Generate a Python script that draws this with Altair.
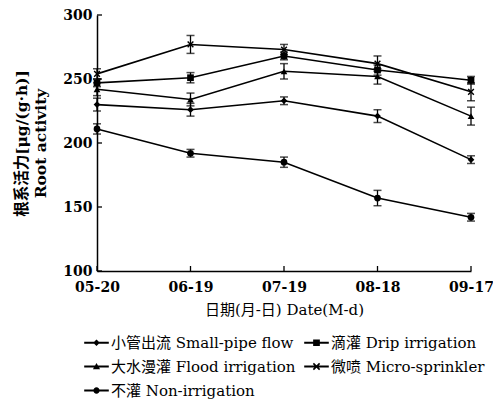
import altair as alt
import pandas as pd

dates = ["05-20", "06-19", "07-19", "08-18", "09-17"]
series = [
    "小管出流 Small-pipe flow",
    "滴灌 Drip irrigation",
    "大水漫灌 Flood irrigation",
    "微喷 Micro-sprinkler",
    "不灌 Non-irrigation",
]
small_pipe = [230, 226, 233, 221, 187]
drip = [247, 251, 268, 257, 249]
flood = [242, 234, 256, 252, 221]
micro = [254, 277, 273, 262, 240]
non_irr = [211, 192, 185, 157, 142]

err_small_pipe = [5, 5, 3, 5, 3]
err_drip = [3, 4, 3, 4, 3]
err_flood = [5, 5, 6, 6, 7]
err_micro = [4, 7, 4, 6, 7]
err_non = [4, 3, 4, 6, 3]

y_ticks = [100, 150, 200, 250, 300]

values = [small_pipe, drip, flood, micro, non_irr]
errors = [err_small_pipe, err_drip, err_flood, err_micro, err_non]

rows = []
for s, vals, errs in zip(series, values, errors):
    for d, v, e in zip(dates, vals, errs):
        rows.append({"date": d, "series": s, "value": v, "lo": v - e, "hi": v + e})
df = pd.DataFrame(rows)
ytick_df = pd.DataFrame({"v": y_ticks})
xtick_df = pd.DataFrame({"date": dates})

FONT = "DejaVu Serif, Noto Sans CJK SC"

x_enc = alt.X(
    "date:O",
    sort=dates,
    scale=alt.Scale(type="point", padding=0, domain=dates),
    axis=alt.Axis(title="日期(月-日) Date(M-d)", labelAngle=0, labelPadding=9,
                  titlePadding=8, labelFlush=False),
)
y_enc = alt.Y(
    "value:Q",
    scale=alt.Scale(domain=[100, 300], nice=False, zero=False),
    axis=alt.Axis(values=y_ticks, title=["根系活力[μg/(g·h)]", "Root activity"],
                  labelPadding=5, titlePadding=14, titleFontWeight="bold",
                  titleLineHeight=19, titleFontSize=15.5),
)

base = alt.Chart(df)

lines = base.mark_line(color="black", strokeWidth=1.6).encode(
    x=x_enc, y=y_enc, detail="series:N"
)
bars = base.mark_rule(color="black", strokeWidth=1.3).encode(
    x=alt.X("date:O", sort=dates), y=alt.Y("lo:Q"), y2="hi:Q"
)
cap_lo = base.mark_tick(color="black", thickness=1.5, size=8).encode(
    x=alt.X("date:O", sort=dates), y=alt.Y("lo:Q")
)
cap_hi = base.mark_tick(color="black", thickness=1.5, size=8).encode(
    x=alt.X("date:O", sort=dates), y=alt.Y("hi:Q")
)

XMARK = ("M-0.7,-1L1,0.7L0.7,1L-1,-0.7Z"
         "M-1,0.7L0.7,-1L1,-0.7L-0.7,1Z")
points = base.mark_point(filled=True, color="black", size=45, opacity=1).encode(
    x=alt.X("date:O", sort=dates),
    y=alt.Y("value:Q"),
    shape=alt.Shape(
        "series:N",
        scale=alt.Scale(domain=series,
                        range=["diamond", "square", "triangle-up", XMARK, "circle"]),
        legend=None,
    ),
)

# legend symbols: a filled bar (the line) plus a filled marker, all clockwise
BAR = "M-1.1,-0.08H1.1V0.08H-1.1Z"
legend_paths = [
    BAR + "M0,-0.3L0.3,0L0,0.3L-0.3,0Z",
    BAR + "M-0.3,-0.3H0.3V0.3H-0.3Z",
    BAR + "M0,-0.32L0.32,0.25H-0.32Z",
    BAR + "M-0.23,-0.33L0.33,0.23L0.23,0.33L-0.33,-0.23Z"
          "M-0.33,0.23L0.23,-0.33L0.33,-0.23L-0.23,0.33Z",
    BAR + "M0.28,0A0.28,0.28,0,1,1,-0.28,0A0.28,0.28,0,1,1,0.28,0Z",
]
legend_layer = base.mark_point(filled=True, opacity=0, color="black").encode(
    x=alt.X("date:O", sort=dates),
    y=alt.Y("value:Q"),
    shape=alt.Shape(
        "series:N",
        scale=alt.Scale(domain=series, range=legend_paths),
        legend=alt.Legend(
            title=None, orient="none", direction="horizontal",
            legendX=-12, legendY=316, columns=2,
            labelFont=FONT, labelFontSize=15, labelColor="black", labelLimit=300,
            symbolSize=500, symbolOpacity=1, symbolStrokeWidth=0,
            symbolFillColor="black",
            labelOffset=3, rowPadding=4, columnPadding=8,
        ),
    ),
)

ytick_marks = alt.Chart(ytick_df).mark_rule(color="black", strokeWidth=1.3).encode(
    y=alt.Y("v:Q"), x=alt.value(0), x2=alt.value(5)
)
xtick_marks = alt.Chart(xtick_df).mark_rule(color="black", strokeWidth=1.3).encode(
    x=alt.X("date:O", sort=dates), y=alt.value(256), y2=alt.value(251)
)

chart = (
    alt.layer(lines, bars, cap_lo, cap_hi, points, legend_layer, ytick_marks, xtick_marks)
    .resolve_scale(shape="independent")
    .resolve_legend(shape="independent")
    .properties(
        width=374, height=256,
        autosize=alt.AutoSizeParams(type="none"),
        padding={"left": 89, "top": 7, "right": 22, "bottom": 128},
    )
    .configure_view(stroke=None)
    .configure_axis(
        domainColor="black", domainWidth=1.5, tickSize=0, grid=False,
        labelFont="DejaVu Serif", labelFontWeight="bold", labelFontSize=14,
        labelColor="black", titleFont=FONT, titleFontSize=15, titleColor="black",
        titleFontWeight="normal",
    )
)

chart.save("out.html", embed_options={"renderer": "svg", "actions": False})
